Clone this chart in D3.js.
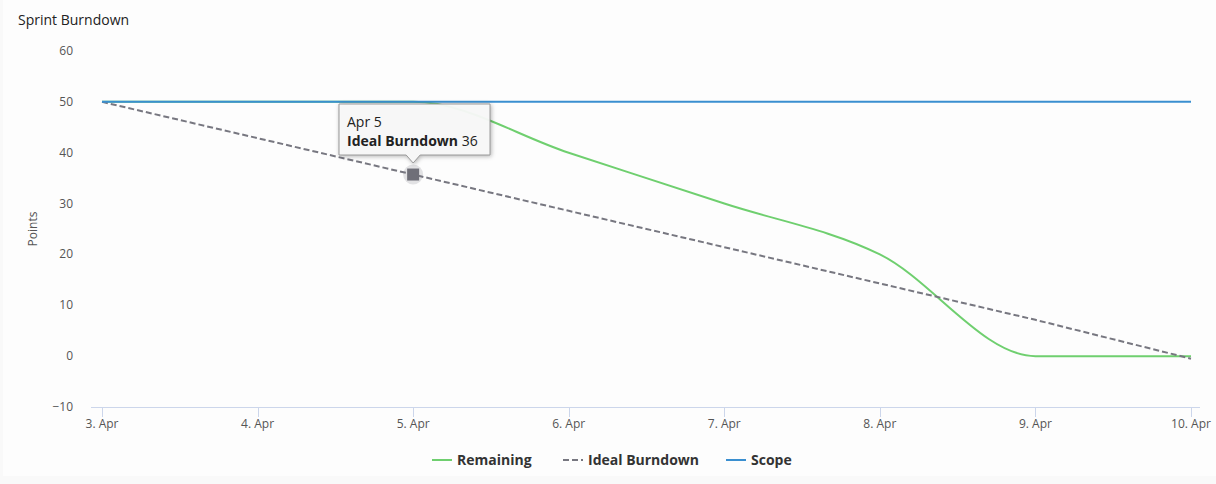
<!DOCTYPE html>
<html>
<head>
<meta charset="utf-8">
<script src="https://cdn.jsdelivr.net/npm/d3@7"></script>
<style>
  body { margin: 0; background: #f9f9f9; }
  svg { font-family: "Open Sans", "DejaVu Sans", sans-serif; }
</style>
</head>
<body>
<svg id="chart" width="1216" height="484"></svg>
<script>
var days = ["3. Apr", "4. Apr", "5. Apr", "6. Apr", "7. Apr", "8. Apr", "9. Apr", "10. Apr"];
var remaining = [50, 50, 50, 40, 30, 20, 0, 0];
var ideal = [50, 42.86, 35.71, 28.57, 21.43, 14.29, 7.14, -0.5];
var scope = [50, 50, 50, 50, 50, 50, 50, 50];
var yTicks = [-10, 0, 10, 20, 30, 40, 50, 60];

var svg = d3.select("#chart");
svg.append("rect").attr("x", 3).attr("y", 0).attr("width", 1213).attr("height", 476).attr("fill", "#fdfdfd");

var x = d3.scaleLinear().domain([0, days.length - 1]).range([102, 1191]);
var y = d3.scaleLinear().domain([-10, 60]).range([407, 51]);

svg.append("text").attr("x", 18).attr("y", 25).attr("font-size", 14).attr("fill", "#222").text("Sprint Burndown");

// y axis labels
svg.selectAll(".yt").data(yTicks).enter().append("text")
  .attr("x", 73).attr("y", function(d) { return y(d) + 4; })
  .attr("text-anchor", "end").attr("font-size", 12).attr("fill", "#555")
  .text(function(d) { return d === -10 ? "\u221210" : d; });

svg.append("text").attr("transform", "translate(37,229) rotate(-90)")
  .attr("text-anchor", "middle").attr("font-size", 12).attr("fill", "#555").text("Points");

// x axis
svg.append("line").attr("x1", 91).attr("x2", 1200).attr("y1", 407.5).attr("y2", 407.5).attr("stroke", "#ccd6eb");
svg.selectAll(".xt").data(days).enter().append("line")
  .attr("x1", function(d, i) { return Math.round(x(i)) + 0.5; })
  .attr("x2", function(d, i) { return Math.round(x(i)) + 0.5; })
  .attr("y1", 407).attr("y2", 417).attr("stroke", "#ccd6eb");
svg.selectAll(".xl").data(days).enter().append("text")
  .attr("x", function(d, i) { return x(i); }).attr("y", 428)
  .attr("text-anchor", "middle").attr("font-size", 12).attr("fill", "#555")
  .text(function(d) { return d; });

var line = d3.line().x(function(d, i) { return x(i); }).y(function(d) { return y(d); });

svg.append("path").datum(remaining)
  .attr("d", line.curve(d3.curveMonotoneX))
  .attr("fill", "none").attr("stroke", "#6fcf6f").attr("stroke-width", 2);
svg.append("path").datum(ideal)
  .attr("d", line.curve(d3.curveLinear))
  .attr("fill", "none").attr("stroke", "#777780").attr("stroke-width", 2).attr("stroke-dasharray", "6,3");
svg.append("path").datum(scope)
  .attr("d", line.curve(d3.curveLinear))
  .attr("fill", "none").attr("stroke", "#3a8fd0").attr("stroke-width", 2);

// hover marker
var hx = x(2), hy = y(ideal[2]);
svg.append("circle").attr("cx", hx).attr("cy", hy).attr("r", 10).attr("fill", "#777780").attr("opacity", 0.2);
svg.append("rect").attr("x", hx - 6).attr("y", hy - 6).attr("width", 12).attr("height", 12).attr("fill", "#6f6f78");

// tooltip
var tip = svg.append("g");
tip.append("path")
  .attr("d", "M339,104 H490 V155 H" + (hx + 7) + " L" + hx + ",163 L" + (hx - 7) + ",155 H339 Z")
  .attr("fill", "rgba(250,250,250,0.95)").attr("stroke", "#999").attr("stroke-width", 1)
  .style("filter", "drop-shadow(1px 1px 2px rgba(0,0,0,0.3))");
tip.append("text").attr("x", 347).attr("y", 127).attr("font-size", 14).attr("fill", "#222").text("Apr 5");
var t2 = tip.append("text").attr("x", 347).attr("y", 146).attr("font-size", 14).attr("fill", "#222");
t2.append("tspan").attr("font-weight", "bold").text("Ideal Burndown");
t2.append("tspan").text(" 36");

// legend
var legend = [
  { name: "Remaining", color: "#6fcf6f", dash: null, x: 432 },
  { name: "Ideal Burndown", color: "#777780", dash: "6,3", x: 563 },
  { name: "Scope", color: "#3a8fd0", dash: null, x: 726 }
];
var lg = svg.selectAll(".lg").data(legend).enter().append("g");
lg.append("line").attr("x1", function(d) { return d.x; }).attr("x2", function(d) { return d.x + 20; })
  .attr("y1", 460).attr("y2", 460).attr("stroke", function(d) { return d.color; }).attr("stroke-width", 2)
  .attr("stroke-dasharray", function(d) { return d.dash; });
lg.append("text").attr("x", function(d) { return d.x + 25; }).attr("y", 465)
  .attr("font-size", 14).attr("font-weight", "bold").attr("fill", "#333").text(function(d) { return d.name; });
</script>
</body>
</html>
